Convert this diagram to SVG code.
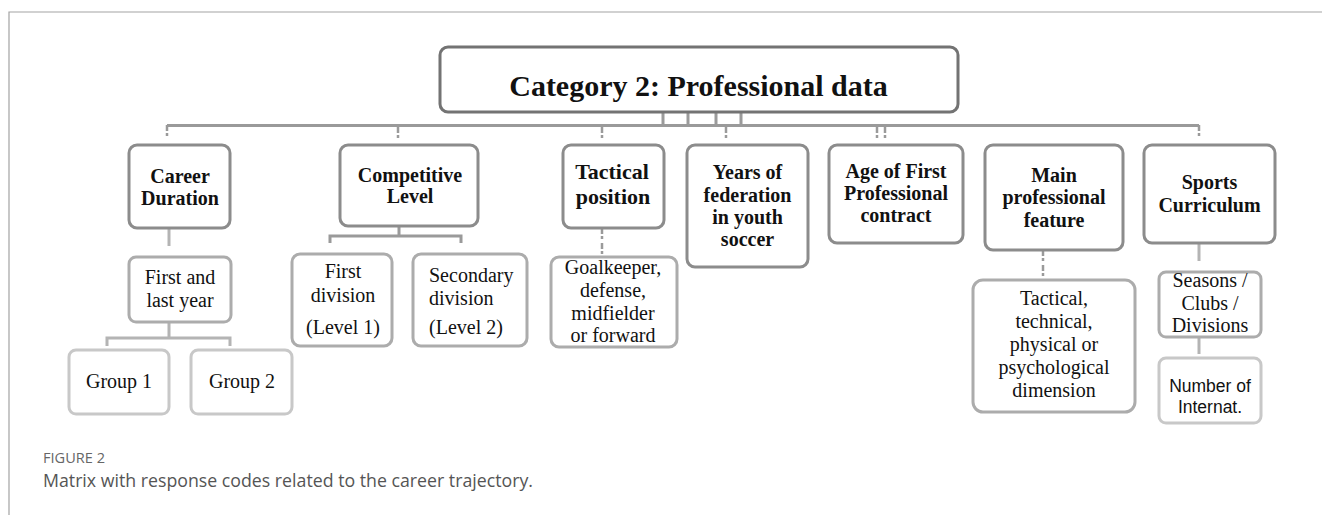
<svg xmlns="http://www.w3.org/2000/svg" width="1322" height="515" viewBox="0 0 1322 515">
<style>
.bg{fill:#ffffff}
.frame{fill:none;stroke:#a3a3a3;stroke-width:1.2}
.top{fill:#fff;stroke:#737373;stroke-width:3}
.l2{fill:#fff;stroke:#8c8c8c;stroke-width:3}
.l3{fill:#fff;stroke:#acacac;stroke-width:3}
.l4{fill:#fff;stroke:#c8c8c8;stroke-width:3}
.conn{fill:none;stroke:#9a9a9a;stroke-width:3}
.connl{fill:none;stroke:#b4b4b4;stroke-width:3}
.tick{fill:none;stroke:#9a9a9a;stroke-width:2.5;stroke-dasharray:6 2 3 4}
.title{font-family:"Liberation Serif",serif;font-weight:bold;font-size:30px;fill:#111;text-anchor:middle}
.b{font-family:"Liberation Serif",serif;font-weight:bold;font-size:20px;fill:#111;text-anchor:middle}
.bt{font-family:"Liberation Serif",serif;font-weight:bold;font-size:22px;fill:#111;text-anchor:middle}
.r{font-family:"Liberation Serif",serif;font-size:20px;fill:#111;text-anchor:middle}
.rl{font-family:"Liberation Serif",serif;font-size:20px;fill:#111;text-anchor:start}
.s{font-family:"Liberation Sans",sans-serif;font-size:17.5px;fill:#111;text-anchor:middle}
.fig{font-family:"Open Sans",sans-serif;font-size:14px;fill:#666}
.cap{font-family:"Open Sans",sans-serif;font-size:17.5px;fill:#555}
</style>
<rect class="bg" x="0" y="0" width="1322" height="515"/>
<path class="frame" d="M9,515 V12 H1322"/>

<g id="connectors">
  <path class="conn" d="M663,112 V125 M688,112 V125 M716,112 V125 M741,112 V125"/>
  <path class="conn" d="M167,125.5 H1199"/>
  <path class="tick" d="M167,125 V139 M398,127 V139 M602,127 V139 M726,127 V139 M877,127 V139 M885,127 V139 M1199,125 V139"/>
  <path class="connl" d="M169,228 V246"/>
  <path class="connl" d="M169,322 V338 M107,346 V338 H230 V346"/>
  <path class="conn" d="M399,226 V236 M330,243 V236 H461 V243"/>
  <path class="tick" d="M602,228 V254"/>
  <path class="tick" d="M1043,250 V277"/>
  <path class="connl" d="M1199,243 V261"/>
  <path class="connl" d="M1199,337 V354"/>
</g>

<g id="n-title">
  <rect class="top" x="440" y="47" width="518" height="65" rx="8"/>
  <text class="title" x="698.5" y="96">Category 2: Professional data</text>
</g>

<g id="n-career">
  <rect class="l2" x="129" y="145" width="101" height="83" rx="8"/>
  <text class="b" x="180" y="183">Career</text>
  <text class="b" x="180" y="205">Duration</text>
</g>
<g id="n-competitive">
  <rect class="l2" x="340" y="145" width="138" height="81" rx="8"/>
  <text class="b" x="410" y="182">Competitive</text>
  <text class="b" x="410" y="203">Level</text>
</g>
<g id="n-tactical">
  <rect class="l2" x="563" y="145" width="101" height="83" rx="8"/>
  <text class="bt" x="612" y="179">Tactical</text>
  <text class="bt" x="613" y="204">position</text>
</g>
<g id="n-years">
  <rect class="l2" x="687" y="145" width="121" height="122" rx="8"/>
  <text class="b" x="747.5" y="179">Years of</text>
  <text class="b" x="747.5" y="202">federation</text>
  <text class="b" x="747.5" y="224">in youth</text>
  <text class="b" x="747.5" y="246">soccer</text>
</g>
<g id="n-age">
  <rect class="l2" x="829" y="145" width="134" height="98" rx="8"/>
  <text class="b" x="896" y="178">Age of First</text>
  <text class="b" x="896" y="200">Professional</text>
  <text class="b" x="896" y="222">contract</text>
</g>
<g id="n-main">
  <rect class="l2" x="985" y="145" width="138" height="105" rx="8"/>
  <text class="b" x="1054" y="182">Main</text>
  <text class="b" x="1054" y="204">professional</text>
  <text class="b" x="1054" y="227">feature</text>
</g>
<g id="n-sports">
  <rect class="l2" x="1144" y="145" width="131" height="98" rx="8"/>
  <text class="b" x="1209.5" y="189">Sports</text>
  <text class="b" x="1209.5" y="212">Curriculum</text>
</g>

<g id="n-firstlast">
  <rect class="l3" x="129" y="257" width="102" height="65" rx="7"/>
  <text class="r" x="180" y="284">First and</text>
  <text class="r" x="180" y="307">last year</text>
</g>
<g id="n-group1">
  <rect class="l4" x="69" y="350" width="100" height="64" rx="7"/>
  <text class="r" x="119" y="388">Group 1</text>
</g>
<g id="n-group2">
  <rect class="l4" x="191" y="350" width="101" height="64" rx="7"/>
  <text class="r" x="242" y="388">Group 2</text>
</g>
<g id="n-firstdiv">
  <rect class="l3" x="292" y="254" width="100" height="92" rx="8"/>
  <text class="r" x="343" y="278">First</text>
  <text class="r" x="343" y="302">division</text>
  <text class="r" x="343" y="334">(Level 1)</text>
</g>
<g id="n-secdiv">
  <rect class="l3" x="413" y="254" width="114" height="92" rx="8"/>
  <text class="rl" x="429" y="282">Secondary</text>
  <text class="rl" x="429" y="305">division</text>
  <text class="rl" x="429" y="334">(Level 2)</text>
</g>
<g id="n-goalkeeper">
  <rect class="l3" x="551" y="257" width="126" height="90" rx="8"/>
  <text class="r" x="613" y="274">Goalkeeper,</text>
  <text class="r" x="613" y="297">defense,</text>
  <text class="r" x="613" y="320">midfielder</text>
  <text class="r" x="613" y="342">or forward</text>
</g>
<g id="n-dimension">
  <rect class="l3" x="973" y="280" width="162" height="132" rx="10"/>
  <text class="r" x="1054" y="305">Tactical,</text>
  <text class="r" x="1054" y="328">technical,</text>
  <text class="r" x="1054" y="351">physical or</text>
  <text class="r" x="1054" y="374">psychological</text>
  <text class="r" x="1054" y="397">dimension</text>
</g>
<g id="n-seasons">
  <rect class="l3" x="1159" y="272" width="102" height="65" rx="7"/>
  <text class="r" x="1210" y="287">Seasons /</text>
  <text class="r" x="1210" y="310">Clubs /</text>
  <text class="r" x="1210" y="332">Divisions</text>
</g>
<g id="n-internat">
  <rect class="l4" x="1159" y="358" width="102" height="65" rx="7"/>
  <text class="s" x="1210" y="392">Number of</text>
  <text class="s" x="1210" y="413">Internat.</text>
</g>

<g id="caption">
  <text class="fig" x="43" y="463" textLength="62" lengthAdjust="spacingAndGlyphs">FIGURE 2</text>
  <text class="cap" x="43" y="487" textLength="490" lengthAdjust="spacingAndGlyphs">Matrix with response codes related to the career trajectory.</text>
</g>
</svg>
